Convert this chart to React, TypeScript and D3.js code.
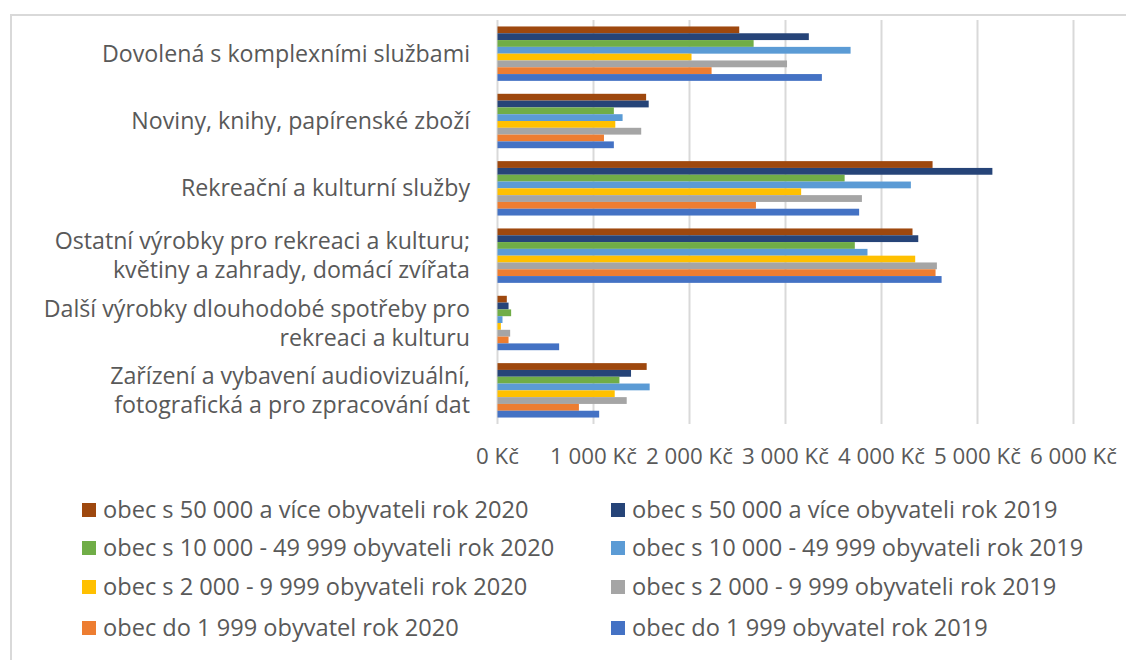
import React from "react";
import * as d3 from "d3";

const categories = [
  ["Dovolená s komplexními službami"],
  ["Noviny, knihy, papírenské zboží"],
  ["Rekreační a kulturní služby"],
  ["Ostatní výrobky pro rekreaci a kulturu;", "květiny a zahrady, domácí zvířata"],
  ["Další výrobky dlouhodobé spotřeby pro", "rekreaci a kulturu"],
  ["Zařízení a vybavení audiovizuální,", "fotografická a pro zpracování dat"],
];

const seriesNames = [
  "obec s 50 000 a více obyvateli rok 2020",
  "obec s 50 000 a více obyvateli rok 2019",
  "obec s 10 000 - 49 999 obyvateli rok 2020",
  "obec s 10 000 - 49 999 obyvateli rok 2019",
  "obec s 2 000 - 9 999 obyvateli rok 2020",
  "obec s 2 000 - 9 999 obyvateli rok 2019",
  "obec do 1 999 obyvatel rok 2020",
  "obec do 1 999 obyvatel rok 2019",
];

const seriesColors = ["#9E480E", "#264478", "#70AD47", "#5B9BD5", "#FFC000", "#A5A5A5", "#ED7D31", "#4472C4"];

// values per series, in category order
const s50k2020 = [2518, 1548, 4532, 4323, 97, 1554];
const s50k2019 = [3243, 1575, 5155, 4383, 115, 1391];
const s10k2020 = [2668, 1212, 3616, 3722, 142, 1270];
const s10k2019 = [3678, 1303, 4306, 3854, 52, 1585];
const s2k2020 = [2021, 1227, 3163, 4351, 35, 1221];
const s2k2019 = [3016, 1497, 3796, 4577, 132, 1346];
const s1k2020 = [2230, 1109, 2692, 4563, 115, 848];
const s1k2019 = [3379, 1212, 3767, 4626, 642, 1059];

const seriesValues = [s50k2020, s50k2019, s10k2020, s10k2019, s2k2020, s2k2019, s1k2020, s1k2019];

const xTicks = [0, 1000, 2000, 3000, 4000, 5000, 6000];
const fmt = (v: number) => (v === 0 ? "0 Kč" : d3.format(",")(v).replace(/,/g, " ") + " Kč");

export default function App() {
  const W = 1126, H = 660;
  const left = 497.5, right = 1073.5, top = 20, bottom = 424;
  const x = d3.scaleLinear().domain([0, 6000]).range([left, right]);
  const y0 = d3.scaleBand().domain(categories.map((_, i) => String(i))).range([top, bottom]).paddingInner(0).paddingOuter(0);
  const barH = 6.8;
  const inner = d3.scaleBand().domain(seriesNames).range([0, barH * 8]);
  const textColor = "#595959";
  const font = "'Open Sans', Lato, sans-serif";
  const legendRows = [510, 548, 587, 628];

  return (
    <svg width={W} height={H} style={{ position: "absolute", left: 0, top: 0, background: "#fff" }} fontFamily={font}>
      <rect x={0} y={0} width={W} height={H} fill="#fff" />
      <rect x={11} y={15} width={W + 20} height={H + 20} fill="none" stroke="#d9d9d9" strokeWidth={2} />
      {xTicks.map((t) => (
        <line key={t} x1={x(t)} x2={x(t)} y1={top} y2={bottom} stroke="#d9d9d9" strokeWidth={2} />
      ))}
      {categories.map((c, ci) => {
        const by = y0(String(ci))! + (y0.bandwidth() - barH * 8) / 2;
        return (
          <g key={ci}>
            {seriesNames.map((s, si) => (
              <rect key={s} x={x(0)} y={by + inner(s)!} width={x(seriesValues[si][ci]) - x(0)} height={inner.bandwidth()} fill={seriesColors[si]} />
            ))}
          </g>
        );
      })}
      {categories.map((c, ci) => {
        const cy = y0(String(ci))! + y0.bandwidth() / 2;
        const lh = 29;
        const start = cy - ((c.length - 1) * lh) / 2;
        return (
          <text key={ci} x={470} textAnchor="end" fill={textColor} fontSize={23.2}>
            {c.map((line, li) => (
              <tspan key={li} x={470} y={start + li * lh} dy="0.35em">{line}</tspan>
            ))}
          </text>
        );
      })}
      {xTicks.map((t) => (
        <text key={t} x={x(t)} y={456} dy="0.35em" textAnchor="middle" fill={textColor} fontSize={22.3}>{fmt(t)}</text>
      ))}
      {seriesNames.map((s, si) => {
        const col = si % 2;
        const row = Math.floor(si / 2);
        const lx = col === 0 ? 82 : 611;
        const ly = legendRows[row];
        return (
          <g key={s}>
            <rect x={lx} y={ly - 7} width={14} height={14} fill={seriesColors[si]} />
            <text x={lx + 21} y={ly} dy="0.35em" fill={textColor} fontSize={23.6}>{s}</text>
          </g>
        );
      })}
    </svg>
  );
}
